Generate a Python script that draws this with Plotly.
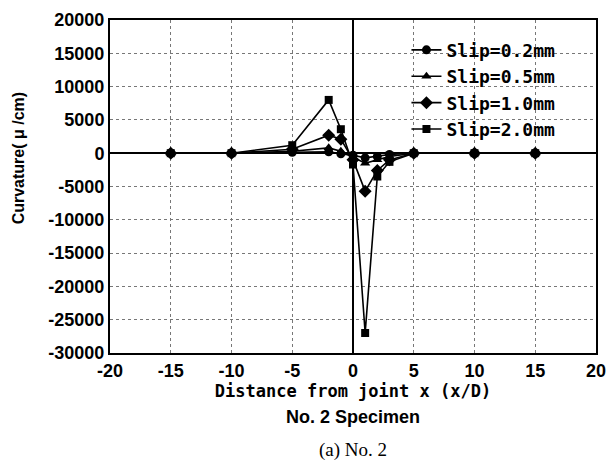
import plotly.graph_objects as go

x_pos = [-15, -10, -5, -2, -1, 0, 1, 2, 3, 5, 10, 15]
slip_02 = [0, 0, 150, 200, -100, -300, -700, -500, -200, 0, 0, 0]
slip_05 = [0, 0, 300, 800, 300, -600, -1500, -1000, -500, 0, 0, 0]
slip_10 = [0, 0, 600, 2700, 2100, -1000, -5700, -2600, -1000, 0, 0, 0]
slip_20 = [0, 0, 1200, 8000, 3600, -1700, -27000, -3500, -1300, 0, 0, 0]

series = [
    ("Slip=0.2mm", slip_02, "circle", 9),
    ("Slip=0.5mm", slip_05, "triangle-up", 9),
    ("Slip=1.0mm", slip_10, "diamond", 10),
    ("Slip=2.0mm", slip_20, "square", 8),
]

x_ticks = [-20, -15, -10, -5, 0, 5, 10, 15, 20]
y_ticks = [20000, 15000, 10000, 5000, 0, -5000, -10000, -15000, -20000, -25000, -30000]

narrow = "Liberation Sans, Arial, sans-serif"
mono = "DejaVu Sans Mono, Liberation Mono, monospace"

fig = go.Figure()
for name, vals, sym, sz in series:
    fig.add_trace(go.Scatter(
        x=x_pos, y=vals, name=name, mode="lines+markers",
        line=dict(color="black", width=1.6),
        marker=dict(symbol=sym, size=sz, color="black"),
    ))

fig.update_layout(
    width=609, height=476,
    margin=dict(l=110, r=13, t=20, b=123),
    plot_bgcolor="white", paper_bgcolor="white",
    showlegend=True,
    legend=dict(x=0.61, y=0.965, xanchor="left", yanchor="top",
                bgcolor="rgba(0,0,0,0)", font=dict(family=mono, size=18, color="black", weight="bold"),
                itemwidth=30, tracegroupgap=0),
    xaxis=dict(range=[-20, 20], tickvals=x_ticks, ticktext=[str(v) for v in x_ticks],
               showgrid=True, gridcolor="#777", griddash="dot", gridwidth=1,
               zeroline=True, zerolinecolor="black", zerolinewidth=2,
               showline=True, linecolor="black", linewidth=2, mirror=True,
               ticks="", ticklabeloverflow="allow", automargin=False,
               tickfont=dict(family=narrow, size=18, color="black", weight="bold"),
               title=dict(text="Distance from joint x (x/D)", standoff=4,
                          font=dict(family=mono, size=17, color="black", weight="bold"))),
    yaxis=dict(range=[-30000, 20000], tickvals=y_ticks, ticktext=[str(v) for v in y_ticks],
               showgrid=True, gridcolor="#777", griddash="dot", gridwidth=1,
               zeroline=True, zerolinecolor="black", zerolinewidth=2,
               showline=True, linecolor="black", linewidth=2, mirror=True,
               ticks="", automargin=False,
               tickfont=dict(family=narrow, size=18, color="black", weight="bold")),
    annotations=[
        dict(text="Curvature( μ /cm)", xref="paper", yref="paper", x=-0.189, y=0.585,
             xanchor="center", yanchor="middle", textangle=-90, showarrow=False,
             font=dict(family=narrow, size=16, color="black", weight="bold")),
        dict(text="No. 2 Specimen", xref="paper", yref="paper", x=0.5, y=0,
             yanchor="top", yshift=-52, showarrow=False,
             font=dict(family=narrow, size=18, color="black", weight="bold")),
        dict(text="(a) No. 2", xref="paper", yref="paper", x=0.5, y=0,
             yanchor="top", yshift=-84, showarrow=False,
             font=dict(family="Liberation Serif, DejaVu Serif, serif", size=19, color="black")),
    ],
)

fig.write_html("out.html")
